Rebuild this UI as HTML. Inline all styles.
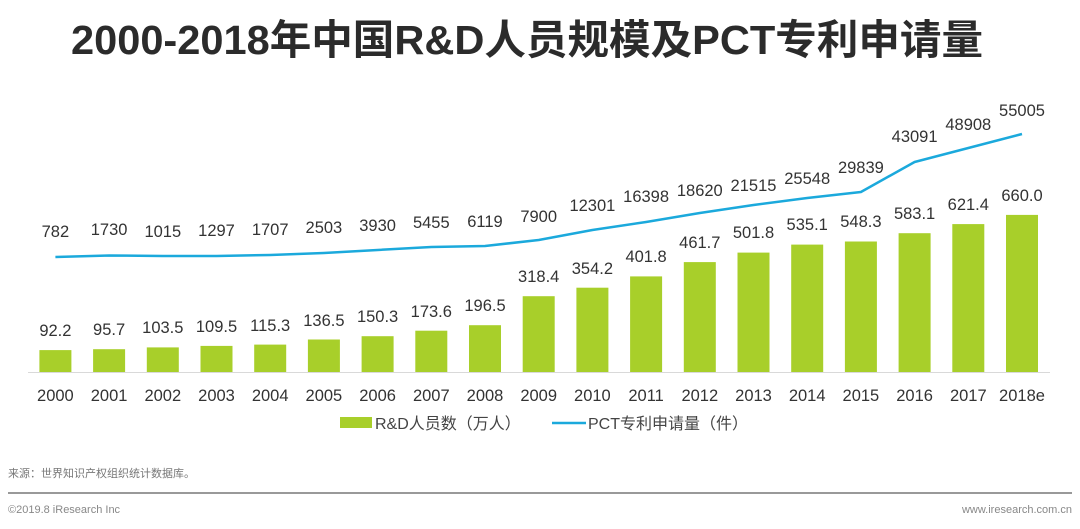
<!DOCTYPE html>
<html><head><meta charset="utf-8"><style>
body{margin:0;width:1080px;height:524px;background:#fff;overflow:hidden;font-family:"Liberation Sans","Noto Sans CJK SC",sans-serif}
</style></head><body>
<svg width="1080" height="524" xmlns="http://www.w3.org/2000/svg" font-family="Liberation Sans, Noto Sans CJK SC, sans-serif">
<text x="527" y="54" text-anchor="middle" font-size="41" font-weight="bold" fill="#2b2b2b" textLength="912" lengthAdjust="spacingAndGlyphs" font-family="Liberation Sans, Noto Sans CJK SC, sans-serif">2000-2018年中国R&amp;D人员规模及PCT专利申请量</text>
<line x1="28" y1="372.5" x2="1050" y2="372.5" stroke="#d9d9d9" stroke-width="1"/>
<g fill="#a8cf2a">
<rect x="39.4" y="350.1" width="32" height="21.9"/>
<rect x="93.1" y="349.2" width="32" height="22.8"/>
<rect x="146.8" y="347.4" width="32" height="24.6"/>
<rect x="200.5" y="345.9" width="32" height="26.1"/>
<rect x="254.2" y="344.6" width="32" height="27.4"/>
<rect x="307.9" y="339.5" width="32" height="32.5"/>
<rect x="361.6" y="336.2" width="32" height="35.8"/>
<rect x="415.3" y="330.7" width="32" height="41.3"/>
<rect x="469" y="325.2" width="32" height="46.8"/>
<rect x="522.7" y="296.2" width="32" height="75.8"/>
<rect x="576.4" y="287.7" width="32" height="84.3"/>
<rect x="630.1" y="276.4" width="32" height="95.6"/>
<rect x="683.8" y="262.1" width="32" height="109.9"/>
<rect x="737.5" y="252.6" width="32" height="119.4"/>
<rect x="791.2" y="244.6" width="32" height="127.4"/>
<rect x="844.9" y="241.5" width="32" height="130.5"/>
<rect x="898.6" y="233.2" width="32" height="138.8"/>
<rect x="952.3" y="224.1" width="32" height="147.9"/>
<rect x="1006" y="214.9" width="32" height="157.1"/>
</g>
<g font-size="16.5" fill="#333" text-anchor="middle">
<text x="55.4" y="336">92.2</text><text x="109.1" y="335">95.7</text><text x="162.8" y="333">103.5</text><text x="216.5" y="332">109.5</text><text x="270.2" y="331">115.3</text><text x="323.9" y="326">136.5</text><text x="377.6" y="322">150.3</text><text x="431.3" y="317">173.6</text><text x="485" y="311">196.5</text><text x="538.7" y="282">318.4</text><text x="592.4" y="274">354.2</text><text x="646.1" y="262">401.8</text><text x="699.8" y="248">461.7</text><text x="753.5" y="238">501.8</text><text x="807.2" y="230">535.1</text><text x="860.9" y="227">548.3</text><text x="914.6" y="219">583.1</text><text x="968.3" y="210">621.4</text><text x="1022" y="201">660.0</text>
</g>
<polyline fill="none" stroke="#1ba9dc" stroke-width="2.5" stroke-linejoin="round" points="55.4,257 109.1,255.5 162.8,256 216.5,256 270.2,255 323.9,253 377.6,250 431.3,247 485,246 538.7,240 592.4,230 646.1,222 699.8,213 753.5,205 807.2,198 860.9,192 914.6,162 968.3,148 1022,134"/>
<g font-size="16.5" fill="#333" text-anchor="middle">
<text x="55.4" y="237">782</text><text x="109.1" y="235">1730</text><text x="162.8" y="237">1015</text><text x="216.5" y="236">1297</text><text x="270.2" y="235">1707</text><text x="323.9" y="233">2503</text><text x="377.6" y="231">3930</text><text x="431.3" y="228">5455</text><text x="485" y="227">6119</text><text x="538.7" y="222">7900</text><text x="592.4" y="211">12301</text><text x="646.1" y="202">16398</text><text x="699.8" y="196">18620</text><text x="753.5" y="191">21515</text><text x="807.2" y="184">25548</text><text x="860.9" y="173">29839</text><text x="914.6" y="142">43091</text><text x="968.3" y="130">48908</text><text x="1022" y="116">55005</text>
</g>
<g font-size="16.5" fill="#333" text-anchor="middle">
<text x="55.4" y="401">2000</text><text x="109.1" y="401">2001</text><text x="162.8" y="401">2002</text><text x="216.5" y="401">2003</text><text x="270.2" y="401">2004</text><text x="323.9" y="401">2005</text><text x="377.6" y="401">2006</text><text x="431.3" y="401">2007</text><text x="485" y="401">2008</text><text x="538.7" y="401">2009</text><text x="592.4" y="401">2010</text><text x="646.1" y="401">2011</text><text x="699.8" y="401">2012</text><text x="753.5" y="401">2013</text><text x="807.2" y="401">2014</text><text x="860.9" y="401">2015</text><text x="914.6" y="401">2016</text><text x="968.3" y="401">2017</text><text x="1022" y="401">2018e</text>
</g>
<rect x="340" y="417" width="32" height="11" fill="#a8cf2a"/>
<text x="375" y="429" font-size="16" fill="#444">R&amp;D人员数（万人）</text>
<line x1="552" y1="423" x2="586" y2="423" stroke="#1ba9dc" stroke-width="2.5"/>
<text x="588" y="429" font-size="16" fill="#444">PCT专利申请量（件）</text>
<text x="8" y="477" font-size="11" fill="#777">来源：世界知识产权组织统计数据库。</text>
<line x1="8" y1="493" x2="1072" y2="493" stroke="#999" stroke-width="2"/>
<text x="8" y="513" font-size="11" fill="#888">©2019.8 iResearch Inc</text>
<text x="1072" y="513" font-size="11" fill="#888" text-anchor="end">www.iresearch.com.cn</text>
</svg>
</body></html>
